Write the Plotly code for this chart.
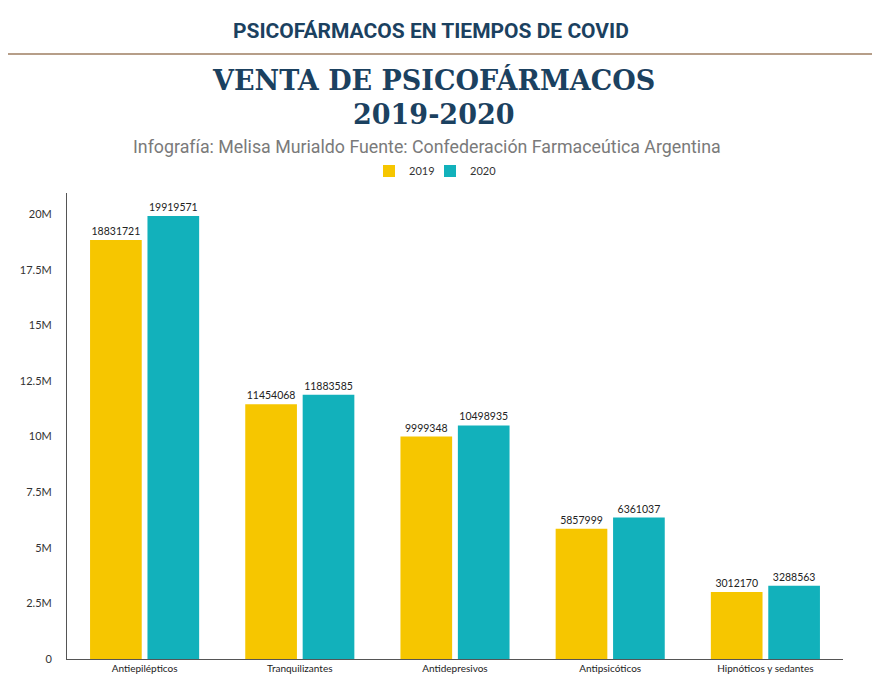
import plotly.graph_objects as go

categories = ["Antiepilépticos", "Tranquilizantes", "Antidepresivos", "Antipsicóticos", "Hipnóticos y sedantes"]
ventas_2019 = [18831721, 11454068, 9999348, 5857999, 3012170]
ventas_2020 = [19919571, 11883585, 10498935, 6361037, 3288563]
series_names = ["2019", "2020"]
tick_vals = [0, 2500000, 5000000, 7500000, 10000000, 12500000, 15000000, 17500000, 20000000]
tick_text = ["0", "2.5M", "5M", "7.5M", "10M", "12.5M", "15M", "17.5M", "20M"]

YELLOW = "#F6C600"
TEAL = "#12B1BB"
NAVY = "#1B4160"

OFF = 8  # page body margin
H, W = 689, 882
L = 67 - OFF
R = W - (843 - OFF)
T = 193 - OFF
B = H - (659 - OFF)
ph = H - T - B
pw = W - L - R

def py(y):
    return (H - B - (y - OFF)) / ph

def px(x):
    return (x - OFF - L) / pw

fig = go.Figure()
for name, vals, col, leg in [(series_names[0], ventas_2019, YELLOW, "legend"),
                             (series_names[1], ventas_2020, TEAL, "legend2")]:
    fig.add_trace(go.Bar(
        x=categories, y=vals, name=name, legend=leg,
        marker=dict(color=col, line=dict(width=0)),
        text=[str(v) for v in vals], textposition="outside", cliponaxis=False,
        textfont=dict(family="Lato, sans-serif", size=10.5, color="#222222"),
    ))

legfont = dict(family="Lato, sans-serif", size=11, color="#333333")
fig.update_layout(
    width=W, height=H,
    margin=dict(l=L, r=R, t=T, b=B, autoexpand=False),
    paper_bgcolor="white", plot_bgcolor="white",
    barmode="group", bargap=0.26, bargroupgap=0.1,
    showlegend=True,
    legend=dict(x=px(369), xanchor="left", y=py(171), yanchor="middle", font=legfont,
                itemwidth=30, bgcolor="rgba(0,0,0,0)"),
    legend2=dict(x=px(430), xanchor="left", y=py(171), yanchor="middle", font=legfont,
                 itemwidth=30, bgcolor="rgba(0,0,0,0)"),
    xaxis=dict(type="category", range=[-0.5, 4.5], showline=True, linecolor="#555555", linewidth=1,
               ticks="", showgrid=False, automargin=False,
               tickfont=dict(family="Lato, sans-serif", size=10, color="#222222")),
    yaxis=dict(range=[0, 20950000], tickvals=tick_vals, ticktext=tick_text, showgrid=False,
               zeroline=False, showline=True, linecolor="#555555", linewidth=1, ticks="",
               automargin=False, ticklabelstandoff=12,
               tickfont=dict(family="Lato, sans-serif", size=11, color="#333333")),
    font=dict(family="Lato, sans-serif"),
)

fig.add_annotation(text="<b>PSICOFÁRMACOS EN TIEMPOS DE COVID</b>", xref="paper", yref="paper",
                   x=px(430.5), y=py(31), xanchor="center", yanchor="middle", showarrow=False,
                   font=dict(family="Roboto, sans-serif", size=21, color=NAVY))
fig.add_shape(type="line", xref="paper", yref="paper", x0=px(8), x1=px(872),
              y0=py(54), y1=py(54), line=dict(color="#9E7E62", width=1.5))
fig.add_annotation(text="<b>VENTA DE PSICOFÁRMACOS</b>", xref="paper", yref="paper",
                   x=px(433.5), y=py(80), xanchor="center", yanchor="middle", showarrow=False,
                   font=dict(family="DejaVu Serif, serif", size=27, color=NAVY))
fig.add_annotation(text="<b>2019-2020</b>", xref="paper", yref="paper",
                   x=px(433.5), y=py(114), xanchor="center", yanchor="middle", showarrow=False,
                   font=dict(family="DejaVu Serif, serif", size=27, color=NAVY))
fig.add_annotation(text="Infografía: Melisa Murialdo Fuente: Confederación Farmaceútica Argentina",
                   xref="paper", yref="paper", x=px(427), y=py(146), xanchor="center", yanchor="middle",
                   showarrow=False, font=dict(family="Roboto, sans-serif", size=17.8, color="#7A7A7A"))

fig.write_html("out.html")
